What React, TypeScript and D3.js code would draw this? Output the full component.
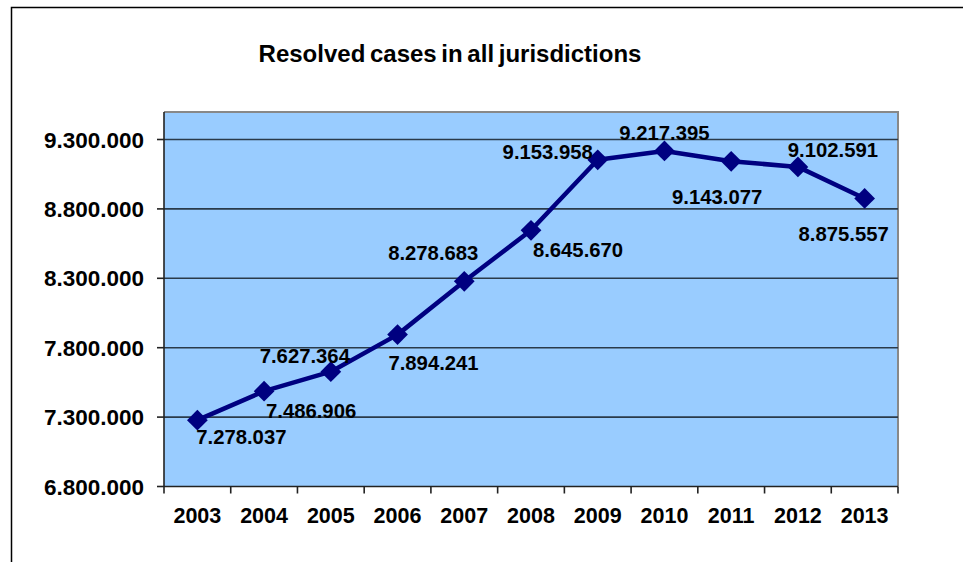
import React from "react";
import * as d3 from "d3";

const years = ["2003","2004","2005","2006","2007","2008","2009","2010","2011","2012","2013"];
const resolved = [7278037, 7486906, 7627364, 7894241, 8278683, 8645670, 9153958, 9217395, 9143077, 9102591, 8875557];
const yTicks = [6800000, 7300000, 7800000, 8300000, 8800000, 9300000];
const title = "Resolved cases in all jurisdictions";
// label placement offsets (dx, dy) relative to each point
const labelDx = [44, 47, -26, 36, -31, 47, -50, 0, -14, 35, -21];
const labelDy = [17, 20, -16, 28, -29, 19, -8, -18, 35, -17, 35];

const W = 963, H = 562;
const PL = 164, PR = 898, PT = 112, PB = 486.5;

const fmt = (v: number) => d3.format(",")(v).replace(/,/g, ".");

export default function App() {
  const x = d3.scaleBand<string>().domain(years).range([PL, PR]).padding(0);
  const y = d3.scaleLinear().domain([6800000, 9300000]).range([PB, 139.5]);
  const cx = (yr: string) => (x(yr) as number) + x.bandwidth() / 2;
  const line = d3.line<number>().x((_, i) => cx(years[i])).y((d) => y(d));
  const diamond = d3.symbol().type(d3.symbolSquare).size(215)();
  const font = "'Liberation Sans', Arial, sans-serif";
  return (
    <svg width={W} height={H} style={{ position: "absolute", left: 0, top: 0, background: "#fff" }} fontFamily={font}>
      {/* outer frame */}
      <path d={`M11.5,${H} V7.5 H${W}`} fill="none" stroke="#000" strokeWidth={1.5} />
      <text x={450} y={62} textAnchor="middle" fontSize={24} fontWeight="bold" wordSpacing={-2} fill="#000">{title}</text>
      {/* plot area */}
      <rect x={PL} y={PT} width={PR - PL} height={PB - PT} fill="#99CCFF" />
      <path d={`M${PL},${PT} H${PR} V${PB}`} fill="none" stroke="#888" strokeWidth={2} />
      {/* gridlines */}
      {yTicks.slice(1).map((t) => (
        <line key={t} x1={PL} x2={PR} y1={y(t)} y2={y(t)} stroke="#2a3a4a" strokeWidth={1.6} />
      ))}
      {/* y axis */}
      <line x1={PL} x2={PL} y1={PT} y2={PB} stroke="#222" strokeWidth={1.6} />
      {yTicks.map((t) => (
        <g key={t}>
          <line x1={157} x2={PL} y1={y(t)} y2={y(t)} stroke="#222" strokeWidth={1.6} />
          <text x={144} y={y(t)} dy="0.36em" textAnchor="end" fontSize={22.5} fontWeight="bold" fill="#000">{fmt(t)}</text>
        </g>
      ))}
      {/* x axis */}
      <line x1={PL} x2={PR} y1={PB} y2={PB} stroke="#222" strokeWidth={1.6} />
      {years.map((yr) => (
        <line key={"t" + yr} x1={x(yr) as number} x2={x(yr) as number} y1={PB} y2={PB + 7} stroke="#222" strokeWidth={1.6} />
      ))}
      <line x1={PR} x2={PR} y1={PB} y2={PB + 7} stroke="#222" strokeWidth={1.6} />
      {years.map((yr) => (
        <text key={"l" + yr} x={cx(yr)} y={523} textAnchor="middle" fontSize={21.5} fontWeight="bold" fill="#000">{yr}</text>
      ))}
      {/* series */}
      <path d={line(resolved) || ""} fill="none" stroke="#000080" strokeWidth={4.5} strokeLinejoin="round" />
      {resolved.map((v, i) => (
        <path key={"m" + i} d={diamond || ""} transform={`translate(${cx(years[i])},${y(v)}) rotate(45)`} fill="#000080" />
      ))}
      {resolved.map((v, i) => (
        <text key={"d" + i} x={cx(years[i]) + labelDx[i]} y={y(v) + labelDy[i]} dy="0.36em" textAnchor="middle" fontSize={20.3} fontWeight="bold" fill="#000">{fmt(v)}</text>
      ))}
    </svg>
  );
}
